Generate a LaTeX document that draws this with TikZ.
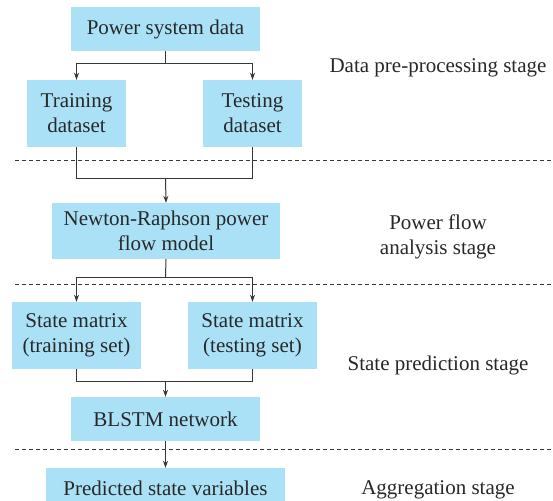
\documentclass[tikz,border=0pt]{standalone}
\usepackage{fontspec}
\setmainfont{Liberation Serif}
\usetikzlibrary{arrows.meta}
\definecolor{boxblue}{RGB}{171,225,247}
\definecolor{ink}{RGB}{40,40,40}
\definecolor{linec}{RGB}{55,55,55}
\tikzset{
  box/.style={fill=boxblue, draw=none, inner sep=0pt, align=center, text=ink,
    font=\fontsize{21}{25}\selectfont},
  stagelbl/.style={inner sep=0pt, align=center, text=ink, font=\fontsize{21}{25}\selectfont},
  conn/.style={draw=linec, line width=1pt},
  arr/.style={conn, -{Stealth[length=7pt,width=5pt]}},
  sep/.style={draw=linec, line width=0.8pt, dash pattern=on 4pt off 3pt}
}
\begin{document}
\begin{tikzpicture}[x=1pt,y=-1pt]
\clip (0,0) rectangle (553,500);
\useasboundingbox (0,0) rectangle (553,500);
\fill[white] (0,0) rectangle (553,500);

% boxes
\node[box, minimum width=189pt, minimum height=44pt] (psd) at (165.5,29) {Power system data};
\node[box, minimum width=99pt, minimum height=67pt] (train) at (76.5,113.5) {Training\\dataset};
\node[box, minimum width=99pt, minimum height=67pt] (test) at (252.5,113.5) {Testing\\dataset};
\node[box, minimum width=228pt, minimum height=56pt] (nr) at (166,231) {Newton-Raphson power\\flow model};
\node[box, minimum width=129pt, minimum height=67pt] (smtr) at (76.5,335.5) {State matrix\\(training set)};
\node[box, minimum width=129pt, minimum height=67pt] (smte) at (252.5,335.5) {State matrix\\(testing set)};
\node[box, minimum width=189pt, minimum height=44pt] (blstm) at (165.5,419) {BLSTM network};
\node[box, minimum width=239pt, minimum height=40pt] (pred) at (165.5,488) {Predicted state variables};

% separators
\coordinate (s1a) at (15,160); \coordinate (s1b) at (553,160);
\coordinate (s2a) at (15,284.5); \coordinate (s2b) at (553,284.5);
\coordinate (s3a) at (15,449); \coordinate (s3b) at (553,449);
\draw[sep] (s1a) -- (s1b);
\draw[sep] (s2a) -- (s2b);
\draw[sep] (s3a) -- (s3b);

% junctions
\coordinate (b1) at (165.5,64);
\coordinate (m1) at (165.5,178);
\coordinate (b2) at (165.5,277);
\coordinate (m2) at (165.5,381);

\draw[conn] (psd.south) -- (b1);
\draw[arr] (b1) -| (train.north);
\draw[arr] (b1) -| (test.north);
\draw[conn] (train.south) |- (m1);
\draw[conn] (test.south) |- (m1);
\draw[arr] (m1) -- (nr.north);
\draw[conn] (nr.south) -- (b2);
\draw[arr] (b2) -| (smtr.north);
\draw[arr] (b2) -| (smte.north);
\draw[conn] (smtr.south) |- (m2);
\draw[conn] (smte.south) |- (m2);
\draw[arr] (m2) -- (blstm.north);
\draw[arr] (blstm.south) -- (pred.north);

% stage labels
\node[stagelbl, anchor=base] (l1) at (438,73) {Data pre-processing stage};
\node[stagelbl, anchor=base] (l2a) at (438,229) {Power flow};
\node[stagelbl, anchor=base] (l2b) at (438,254) {analysis stage};
\node[stagelbl, anchor=base] (l3) at (438,370) {State prediction stage};
\node[stagelbl, anchor=base] (l4) at (438,494) {Aggregation stage};
\end{tikzpicture}
\end{document}
